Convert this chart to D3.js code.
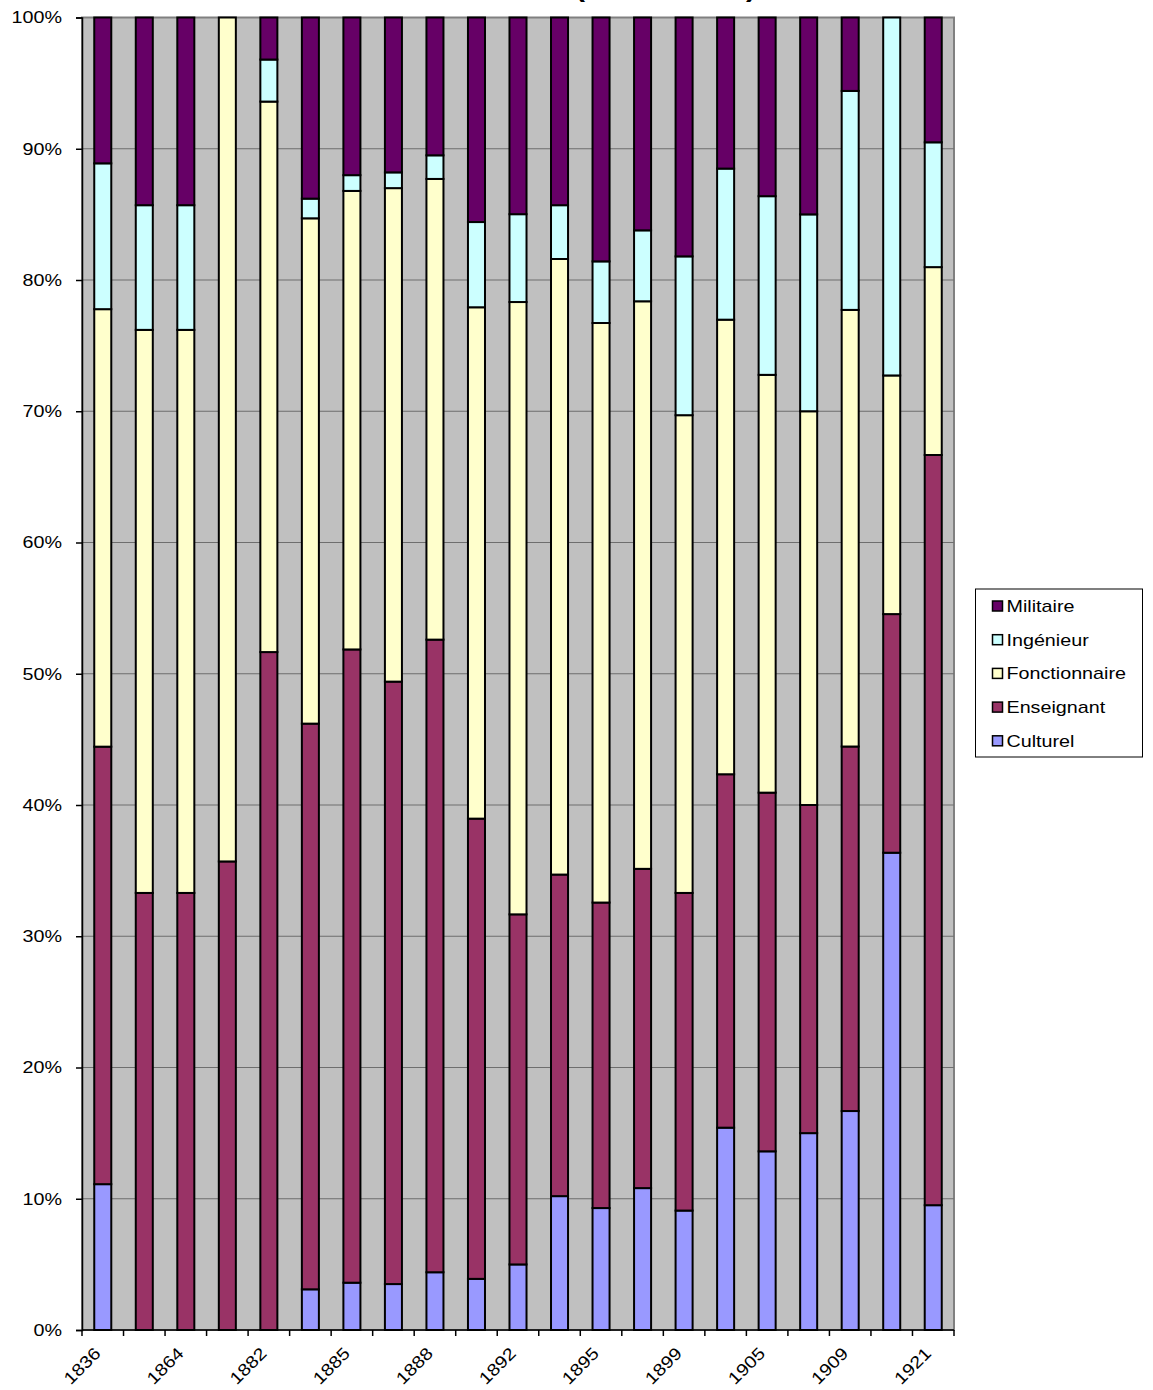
<!DOCTYPE html>
<html>
<head>
<meta charset="utf-8">
<script src="https://cdn.jsdelivr.net/npm/d3@7"></script>
<style>
  body { margin: 0; background: #fff; }
  text { font-family: "Liberation Sans", Arial, sans-serif; }
</style>
</head>
<body>
<div id="chart"></div>
<script>
// only every other year is labelled on the axis
const tickLabels = ["1836", "", "1864", "", "1882", "", "1885", "", "1888", "", "1892",
                    "", "1895", "", "1899", "", "1905", "", "1909", "", "1921"];
const seriesNames = ["Culturel", "Enseignant", "Fonctionnaire", "Ingénieur", "Militaire"];
const seriesColors = ["#9999ff", "#993366", "#ffffcc", "#ccffff", "#660066"];

// percentages per bar
const culturel      = [11.1, 0, 0, 0, 0, 3.1, 3.6, 3.5, 4.4, 3.9, 5.0, 10.2, 9.3, 10.8, 9.1, 15.4, 13.6, 15.0, 16.7, 36.4, 9.5];
const enseignant    = [33.3, 33.3, 33.3, 35.7, 51.6, 43.1, 48.2, 45.9, 48.2, 35.1, 26.7, 24.5, 23.3, 24.3, 24.2, 26.9, 27.3, 25.0, 27.8, 18.2, 57.1];
const fonctionnaire = [33.3, 42.9, 42.9, 64.3, 41.9, 38.5, 34.9, 37.6, 35.1, 39.0, 46.7, 46.9, 44.2, 43.2, 36.4, 34.6, 31.8, 30.0, 33.3, 18.2, 14.3];
const ingenieur     = [11.1, 9.5, 9.5, 0, 3.2, 1.5, 1.2, 1.2, 1.8, 6.5, 6.7, 4.1, 4.7, 5.4, 12.1, 11.5, 13.6, 15.0, 16.7, 27.3, 9.5];
const militaire     = [11.1, 14.3, 14.3, 0, 3.2, 13.8, 12.0, 11.8, 10.5, 15.6, 15.0, 14.3, 18.6, 16.2, 18.2, 11.5, 13.6, 15.0, 5.6, 0, 9.5];
const yTicks = [0, 0.1, 0.2, 0.3, 0.4, 0.5, 0.6, 0.7, 0.8, 0.9, 1];

const width = 1153;
const height = 1390;
const margin = { top: 17.5, right: 199, bottom: 60, left: 82 };
const stretch = 1.16; // text in the original is drawn a bit wide

const svg = d3.select("#chart")
  .append("svg")
  .attr("width", width)
  .attr("height", height);

// title sits above the visible area in the original picture
svg.append("text")
  .attr("transform", `translate(756,-3.5) scale(${stretch},1)`)
  .attr("text-anchor", "end")
  .style("font-size", "26px")
  .style("font-weight", "bold")
  .text("Professions des anciens élèves (1836 - 1921)");

const rows = tickLabels.map((t, i) => {
  const obj = { idx: i };
  obj["Culturel"] = culturel[i];
  obj["Enseignant"] = enseignant[i];
  obj["Fonctionnaire"] = fonctionnaire[i];
  obj["Ingénieur"] = ingenieur[i];
  obj["Militaire"] = militaire[i];
  return obj;
});

const series = d3.stack()
  .keys(seriesNames)
  .offset(d3.stackOffsetExpand)(rows);

const x = d3.scaleBand()
  .domain(rows.map(d => d.idx))
  .range([margin.left, width - margin.right])
  .paddingInner(0.59)
  .paddingOuter(0.295);

const y = d3.scaleLinear()
  .domain([0, 1])
  .range([height - margin.bottom, margin.top]);

const color = d3.scaleOrdinal().domain(seriesNames).range(seriesColors);

// plot area
svg.append("rect")
  .attr("x", margin.left)
  .attr("y", margin.top)
  .attr("width", width - margin.left - margin.right)
  .attr("height", height - margin.top - margin.bottom)
  .attr("fill", "#c0c0c0")
  .attr("stroke", "#808080")
  .attr("stroke-width", 2);

svg.append("g")
  .selectAll("line")
  .data(yTicks.slice(1, -1))
  .enter()
  .append("line")
  .attr("x1", margin.left)
  .attr("x2", width - margin.right)
  .attr("y1", d => y(d))
  .attr("y2", d => y(d))
  .attr("stroke", "#6e6e6e")
  .attr("stroke-width", 1);

svg.selectAll("g.layer")
  .data(series)
  .enter()
  .append("g")
  .attr("class", "layer")
  .attr("fill", d => color(d.key))
  .selectAll("rect")
  .data(d => d.filter(p => p[1] - p[0] > 0))
  .enter()
  .append("rect")
  .attr("x", d => x(d.data.idx))
  .attr("width", x.bandwidth())
  .attr("y", d => y(d[1]))
  .attr("height", d => y(d[0]) - y(d[1]))
  .attr("stroke", "#000")
  .attr("stroke-width", 2);

// y axis
const yAxis = svg.append("g")
  .attr("transform", `translate(${margin.left},0)`)
  .call(d3.axisLeft(y).tickValues(yTicks).tickFormat(d3.format(".0%")).tickSize(6).tickPadding(13));
yAxis.select(".domain").attr("stroke", "#000").attr("stroke-width", 1.5);
yAxis.selectAll(".tick line").attr("stroke", "#000").attr("stroke-width", 1.5);
yAxis.selectAll("text")
  .attr("x", -20 / stretch)
  .attr("transform", `scale(${stretch},1)`)
  .style("font-size", "17px")
  .attr("fill", "#000");

// x axis: ticks between categories
const xAxis = svg.append("g")
  .attr("transform", `translate(0,${height - margin.bottom})`);
xAxis.append("line")
  .attr("x1", margin.left)
  .attr("x2", width - margin.right)
  .attr("stroke", "#000")
  .attr("stroke-width", 1.5);
xAxis.selectAll("line.tk")
  .data(d3.range(rows.length + 1))
  .enter()
  .append("line")
  .attr("class", "tk")
  .attr("x1", i => margin.left + i * x.step())
  .attr("x2", i => margin.left + i * x.step())
  .attr("y2", 6)
  .attr("stroke", "#000")
  .attr("stroke-width", 1.5);
xAxis.selectAll("text")
  .data(rows.filter(d => tickLabels[d.idx] !== ""))
  .enter()
  .append("text")
  .attr("text-anchor", "end")
  .attr("transform", d => `translate(${x(d.idx) + x.bandwidth() / 2 - 1},24.5) rotate(-45) scale(${stretch},1)`)
  .style("font-size", "17px")
  .text(d => tickLabels[d.idx]);

// legend
const legend = svg.append("g").attr("transform", "translate(975.5,589)");
legend.append("rect")
  .attr("width", 167)
  .attr("height", 168)
  .attr("fill", "#fff")
  .attr("stroke", "#000")
  .attr("stroke-width", 1);

const items = legend.selectAll("g.item")
  .data(seriesNames.slice().reverse())
  .enter()
  .append("g")
  .attr("class", "item")
  .attr("transform", (d, i) => `translate(0,${17 + i * 33.7})`);
items.append("rect")
  .attr("x", 17)
  .attr("y", -5)
  .attr("width", 10)
  .attr("height", 10)
  .attr("fill", d => color(d))
  .attr("stroke", "#000")
  .attr("stroke-width", 1.5);
items.append("text")
  .attr("transform", `translate(31,0) scale(${stretch},1)`)
  .attr("dy", "0.35em")
  .style("font-size", "17px")
  .text(d => d);
</script>
</body>
</html>
